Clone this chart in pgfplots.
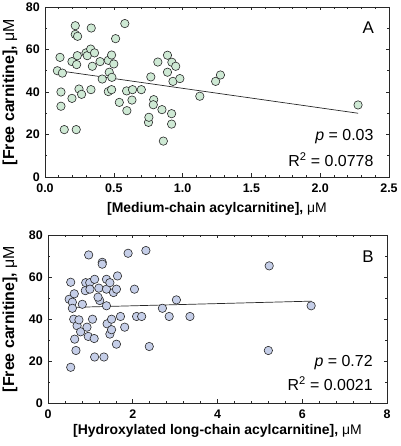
\documentclass[border=0pt]{standalone}
\usepackage{fontspec}
\setmainfont{Liberation Sans}
\usepackage{pgfplots}
\pgfplotsset{compat=1.18}
\definecolor{fillA}{RGB}{206,233,212}
\definecolor{fillB}{RGB}{197,206,232}
\definecolor{edge}{RGB}{40,40,40}
\pgfplotsset{
  panel/.style={
    scale only axis,
    axis line style={edge, line width=0.8bp},
    tick style={edge, line width=0.6bp},
    major tick length=3.5bp, minor tick length=2bp,
    tick align=inside,
    xticklabel pos=bottom, yticklabel pos=left,
    /pgf/number format/assume math mode=true,
    ticklabel style={font=\fontsize{12.5}{12.5}\selectfont\bfseries, inner sep=1bp},
    xticklabel style={yshift=-6bp},
    yticklabel style={xshift=-4bp},
    xlabel style={font=\fontsize{14}{14}\selectfont\bfseries},
    ylabel style={font=\fontsize{16}{16}\selectfont\bfseries},
    ymin=0, ymax=80, ytick={0,20,40,60,80}, minor y tick num=1,
    clip=false,
  },
  dots/.style={only marks, mark=*, mark size=4.2bp,
    mark options={fill=#1, draw=edge, line width=0.6bp}},
}
\begin{document}
\begin{tikzpicture}[x=1bp,y=1bp]
\path[use as bounding box] (0,0) rectangle (400,446);
% Panel A
\begin{axis}[panel,
  at={(45bp,269bp)}, anchor=south west, width=344bp, height=170bp,
  xmin=0, xmax=2.5, xtick={0,0.5,1,1.5,2,2.5}, minor x tick num=4,
  xticklabel style={/pgf/number format/.cd, fixed, fixed zerofill, precision=1},
  xlabel={[Medium-chain acylcarnitine], {\mdseries μM}},
  ylabel={[Free carnitine], {\mdseries μM}},
  xlabel style={at={(axis description cs:0.5,-0.19)}, anchor=center},
  ylabel style={at={(axis description cs:-0.102,0.5)}, anchor=center, rotate=0},
]
\addplot[edge, line width=0.7bp, no marks] coordinates {(0.08,50.2) (2.275,30.0)};
\addplot[dots=fillA] coordinates {
(0.09,50.0) (0.126,48.9) (0.116,40.0) (0.116,33.3) (0.14,22.3) (0.227,22.3)
(0.22,71.2) (0.22,67.1) (0.237,66.2) (0.336,70.1) (0.109,56.3) (0.196,54.3)
(0.235,57.1) (0.23,52.9) (0.196,37.0) (0.247,41.4) (0.266,38.9) (0.298,58.4)
(0.307,57.1) (0.332,60.2) (0.36,58.4) (0.344,52.1) (0.334,41.1) (0.40,54.3)
(0.416,46.1) (0.46,54.9) (0.484,57.4) (0.50,53.2) (0.467,49.3) (0.486,46.9)
(0.46,40.2) (0.484,41.1) (0.513,65.1) (0.58,72.2) (0.54,35.1) (0.593,40.5)
(0.595,31.2) (0.636,41.1) (0.632,36.2) (0.70,41.1) (0.752,25.7) (0.755,28.1)
(0.769,47.1) (0.79,36.4) (0.787,34.0) (0.82,54.1) (0.85,31.7) (0.86,16.9)
(0.89,57.3) (0.922,54.0) (0.89,49.3) (0.93,45.0) (0.95,52.1) (0.92,29.8)
(0.92,24.9) (0.98,46.3) (1.125,38.0) (1.24,45.0) (1.275,48.0) (2.275,33.9)
};
\node[anchor=center, font=\fontsize{17}{17}\selectfont] at (rel axis cs:0.94,0.876) {A};
\node[anchor=east, font=\fontsize{16}{16}\selectfont] at (rel axis cs:0.965,0.235) {\textit{p} = 0.03};
\node[anchor=east, font=\fontsize{16}{16}\selectfont] at (rel axis cs:0.965,0.10) {R\textsuperscript{2} = 0.0778};
\end{axis}
% Panel B
\begin{axis}[panel,
  at={(48bp,43bp)}, anchor=south west, width=339bp, height=168bp,
  xmin=0, xmax=8, xtick={0,2,4,6,8}, minor x tick num=4,
  xlabel={[Hydroxylated long-chain acylcarnitine], {\mdseries μM}},
  ylabel={[Free carnitine], {\mdseries μM}},
  xlabel style={at={(axis description cs:0.5,-0.167)}, anchor=center},
  ylabel style={at={(axis description cs:-0.112,0.5)}, anchor=center, rotate=0},
]
\addplot[edge, line width=0.7bp, no marks] coordinates {(0.5,45.5) (6.22,48.5)};
\addplot[dots=fillB] coordinates {
(0.536,17.0) (0.536,57.5) (0.50,49.4) (0.575,48.0) (0.575,45.1) (0.607,39.9)
(0.62,52.0) (0.63,30.4) (0.66,25.0) (0.686,36.8) (0.73,39.6) (0.77,33.9)
(0.81,47.0) (0.88,53.5) (0.89,57.3) (0.92,36.1) (0.95,31.7) (0.96,70.5)
(0.985,57.3) (0.99,54.2) (1.05,39.9) (1.09,30.7) (1.10,21.9) (1.10,58.9)
(1.20,54.7) (1.22,48.8) (1.18,50.4) (1.28,67.0) (1.28,66.1) (1.32,21.9)
(1.38,58.9) (1.38,54.2) (1.38,46.3) (1.395,37.7) (1.46,32.8) (1.50,34.9)
(1.46,57.3) (1.50,39.9) (1.545,52.6) (1.615,54.2) (1.64,60.5) (1.615,28.0)
(1.71,41.2) (1.81,36.1) (1.89,71.3) (2.04,54.2) (2.09,41.2) (2.21,41.2)
(2.31,72.6) (2.39,26.9) (2.70,45.1) (2.86,41.2) (3.03,49.1) (3.35,41.2)
(5.22,65.3) (5.20,25.0) (6.21,46.3)
};
\node[anchor=center, font=\fontsize{17}{17}\selectfont] at (rel axis cs:0.944,0.87) {B};
\node[anchor=east, font=\fontsize{16}{16}\selectfont] at (rel axis cs:0.968,0.238) {\textit{p} = 0.72};
\node[anchor=east, font=\fontsize{16}{16}\selectfont] at (rel axis cs:0.968,0.113) {R\textsuperscript{2} = 0.0021};
\end{axis}
\end{tikzpicture}
\end{document}
